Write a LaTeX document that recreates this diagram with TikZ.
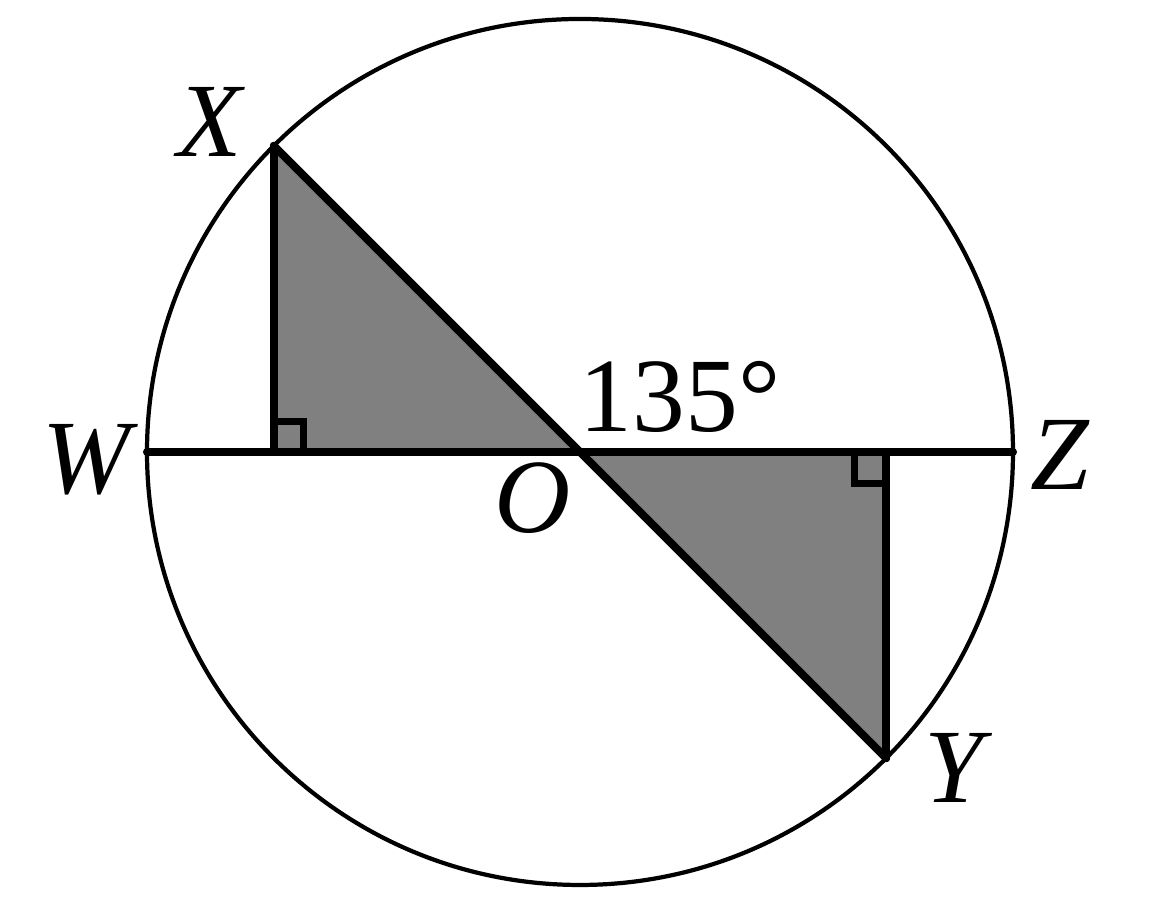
\documentclass[tikz,border=0pt]{standalone}
\usepackage{fontspec}
\setmainfont{Liberation Serif}
\usetikzlibrary{calc}

\begin{document}
\begin{tikzpicture}[
        x=0.01cm, y=0.01cm,
        seg/.style={line width=2.3pt, line cap=round, line join=round},
        rim/.style={line width=1.2pt},
        shade/.style={fill=black!50},
        rtbox/.style={line width=2pt},
        lbl/.style={font=\fontsize{30}{30}\selectfont\itshape, inner sep=0pt},
        deg/.style={font=\fontsize{30}{30}\selectfont, inner sep=0pt}
    ]
        \useasboundingbox (0,0) rectangle (1150,913);
        % points
        \coordinate (O) at (580,461);
        \coordinate (X) at ($(O)+(135:433)$);
        \coordinate (Y) at ($(O)+(-45:433)$);
        \coordinate (W) at ($(O)+(180:433)$);
        \coordinate (Z) at ($(O)+(0:433)$);
        \coordinate (Xf) at (X |- O);
        \coordinate (Yf) at (Y |- O);
        % shaded triangles
        \fill[shade] (X) -- (Xf) -- (O) -- cycle;
        \fill[shade] (O) -- (Yf) -- (Y) -- cycle;
        % circle and segments
        \draw[rim] (O) circle (433);
        \draw[seg] (W) -- (Z);
        \draw[seg] (X) -- (Y);
        \draw[seg] (X) -- (Xf);
        \draw[seg] (Y) -- (Yf);
        % right angle marks
        \draw[rtbox] ($(Xf)+(0,30)$) -- ++(30,0) -- ++(0,-30);
        \draw[rtbox] ($(Yf)+(-32,0)$) -- ++(0,-32) -- ++(32,0);
        % labels
        \node[lbl] (lX) at (210,791) {X};
        \node[lbl] (lW) at (86,453) {W};
        \node[lbl] (lZ) at (1060,458) {Z};
        \node[lbl] (lO) at (533,415) {O};
        \node[lbl] (lY) at (954,145) {Y};
        \node[deg] (ang) at (680,516) {135°};
    \end{tikzpicture}
\end{document}
